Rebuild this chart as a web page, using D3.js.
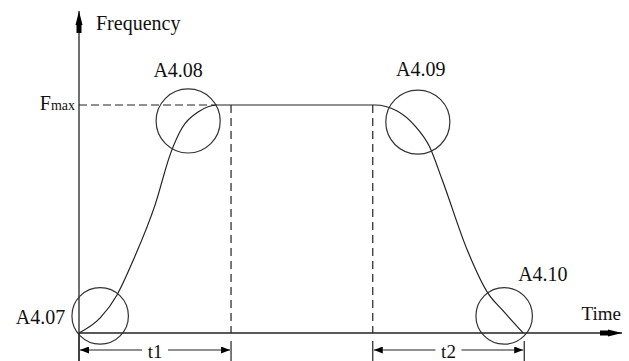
<!DOCTYPE html>
<html>
<head>
<meta charset="utf-8">
<script src="https://cdn.jsdelivr.net/npm/d3@7"></script>
<style>
  body { margin: 0; background: #fff; }
  svg { display: block; }
  svg text { font-family: "Times New Roman", Times, "Liberation Serif", Tinos, "Noto Serif", "DejaVu Serif", FreeSerif, serif; }
</style>
</head>
<body>
<div id="chart"></div>
<script>
// profile of the output frequency (time units, fraction of Fmax)
var curveTime = [0, 0.39, 0.70, 1.00, 1.40, 1.69, 1.90, 2.20, 2.54, 5.45, 5.85, 6.20, 6.45, 6.69, 7.15, 7.53, 7.80, 8.18];
var curveFreq = [0, 0.066, 0.167, 0.320, 0.561, 0.790, 0.900, 0.970, 1.0, 1.0, 0.975, 0.905, 0.820, 0.671, 0.364, 0.175, 0.100, 0];

// S-curve corner parameters
var cornerNames = ["A4.07", "A4.08", "A4.09", "A4.10"];
var cornerTime = [0.39, 2.01, 6.24, 7.83];
var cornerFreq = [0.075, 0.93, 0.925, 0.075];
var cornerRadius = [0.52, 0.59, 0.59, 0.52];   // in time units

// acceleration / deceleration intervals
var spanNames = ["t1", "t2"];
var spanStart = [0, 5.41];
var spanEnd = [2.8, 8.2];

var fmax = 1;
var axisLabels = ["Frequency", "Time"];

var width = 629, height = 361;
var x = d3.scaleLinear().domain([0, 10]).range([79, 622]);
var y = d3.scaleLinear().domain([0, 1]).range([333, 105]);

var svg = d3.select("#chart").append("svg")
    .attr("width", width)
    .attr("height", height);

var ink = "#222";

// arrow markers
var defs = svg.append("defs");
defs.append("marker").attr("id", "axisArrow")
    .attr("viewBox", "0 0 22 8").attr("refX", 22).attr("refY", 4)
    .attr("markerWidth", 22).attr("markerHeight", 8)
    .attr("markerUnits", "userSpaceOnUse").attr("orient", "auto")
  .append("path").attr("d", "M0,1.5 L8,1.5 L8,0.5 L22,4 L8,7.5 L8,6.5 L0,6.5 Z").attr("fill", "#000");
defs.append("marker").attr("id", "dimArrow")
    .attr("viewBox", "0 0 9 7").attr("refX", 9).attr("refY", 3.5)
    .attr("markerWidth", 9).attr("markerHeight", 7)
    .attr("markerUnits", "userSpaceOnUse").attr("orient", "auto-start-reverse")
  .append("path").attr("d", "M0,0 L9,3.5 L0,7 Z").attr("fill", "#000");

// axes
svg.append("line")
    .attr("x1", x(0)).attr("x2", x(0))
    .attr("y1", height).attr("y2", 11)
    .attr("stroke", ink).attr("stroke-width", 1.3)
    .attr("marker-end", "url(#axisArrow)");
svg.append("line")
    .attr("x1", x(0)).attr("x2", x(10))
    .attr("y1", y(0)).attr("y2", y(0))
    .attr("stroke", ink).attr("stroke-width", 1.3)
    .attr("marker-end", "url(#axisArrow)");

svg.append("text").attr("x", x(0) + 17).attr("y", 30)
    .attr("font-size", 20).attr("fill", "#111").text(axisLabels[0]);
svg.append("text").attr("x", x(10) - 1).attr("y", 320)
    .attr("text-anchor", "end").attr("font-size", 19).attr("fill", "#111").text(axisLabels[1]);

// Fmax guide and label
svg.append("line")
    .attr("x1", x(0)).attr("x2", x(curveTime[8]))
    .attr("y1", y(fmax)).attr("y2", y(fmax))
    .attr("stroke", ink).attr("stroke-width", 1.2)
    .attr("stroke-dasharray", "8,4");
var fm = svg.append("text").attr("x", x(0) - 4).attr("y", y(fmax) + 5)
    .attr("text-anchor", "end").attr("fill", "#111");
fm.append("tspan").attr("font-size", 20).text("F");
fm.append("tspan").attr("font-size", 14).text("max");

// dashed verticals at the ends of the ramps
var marks = [spanEnd[0], spanStart[1]];
svg.selectAll(".vdash").data(marks).enter().append("line")
    .attr("class", "vdash")
    .attr("x1", function(d) { return x(d); }).attr("x2", function(d) { return x(d); })
    .attr("y1", y(fmax)).attr("y2", y(0))
    .attr("stroke", ink).attr("stroke-width", 1.2)
    .attr("stroke-dasharray", "8,5");

// extension lines below the axis
var ext = [spanStart[0], spanEnd[0], spanStart[1], spanEnd[1]];
svg.selectAll(".ext").data(ext).enter().append("line")
    .attr("class", "ext")
    .attr("x1", function(d) { return x(d); }).attr("x2", function(d) { return x(d); })
    .attr("y1", function(d, i) { return i === 0 ? y(0) : y(0) + 8; })
    .attr("y2", height)
    .attr("stroke", ink).attr("stroke-width", 1.2);

// dimension arrows t1 / t2
var spans = spanNames.map(function(n, i) { return {name: n, a: spanStart[i], b: spanEnd[i]}; });
var dimY = 350;
var sg = svg.selectAll(".span").data(spans).enter().append("g").attr("class", "span");
sg.append("line")
    .attr("x1", function(d) { return x(d.a) + 1; }).attr("x2", function(d) { return x(d.b) - 1; })
    .attr("y1", dimY).attr("y2", dimY)
    .attr("stroke", ink).attr("stroke-width", 1.2)
    .attr("marker-start", "url(#dimArrow)")
    .attr("marker-end", "url(#dimArrow)");
sg.append("rect")
    .attr("x", function(d) { return (x(d.a) + x(d.b)) / 2 - 13; })
    .attr("y", dimY - 8).attr("width", 26).attr("height", 20)
    .attr("fill", "#fff");
sg.append("text")
    .attr("x", function(d) { return (x(d.a) + x(d.b)) / 2; })
    .attr("y", dimY + 8)
    .attr("text-anchor", "middle").attr("font-size", 19).attr("fill", "#111")
    .text(function(d) { return d.name; });

// frequency curve
var pts = curveTime.map(function(t, i) { return [t, curveFreq[i]]; });
var line = d3.line()
    .x(function(d) { return x(d[0]); })
    .y(function(d) { return y(d[1]); })
    .curve(d3.curveMonotoneX);
svg.append("path").datum(pts)
    .attr("d", line)
    .attr("fill", "none").attr("stroke", ink).attr("stroke-width", 1.2);

// corner circles and labels
var corners = cornerNames.map(function(n, i) {
  return {name: n, t: cornerTime[i], f: cornerFreq[i], r: cornerRadius[i]};
});
var labelOffset = [[-35, 8, "end"], [-10, -44, "middle"], [3, -46, "middle"], [14, -35, "start"]];
svg.selectAll(".corner").data(corners).enter().append("circle")
    .attr("class", "corner")
    .attr("cx", function(d) { return x(d.t); })
    .attr("cy", function(d) { return y(d.f); })
    .attr("r", function(d) { return x(d.r) - x(0); })
    .attr("fill", "none").attr("stroke", "#333").attr("stroke-width", 1.2);
svg.selectAll(".clabel").data(corners).enter().append("text")
    .attr("class", "clabel")
    .attr("x", function(d, i) { return x(d.t) + labelOffset[i][0]; })
    .attr("y", function(d, i) { return y(d.f) + labelOffset[i][1]; })
    .attr("text-anchor", function(d, i) { return labelOffset[i][2]; })
    .attr("font-size", 20).attr("fill", "#111")
    .text(function(d) { return d.name; });
</script>
</body>
</html>
